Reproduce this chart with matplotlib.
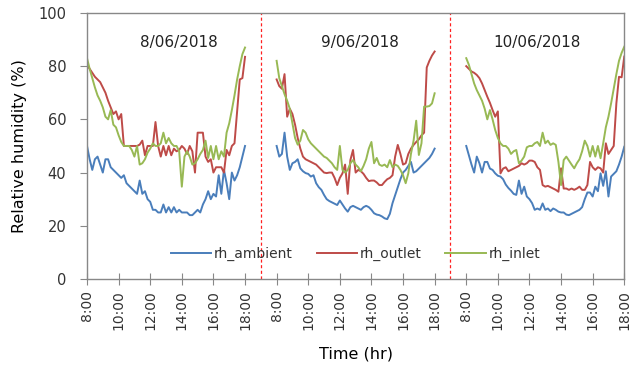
import numpy as np
import matplotlib
matplotlib.use("Agg")
import matplotlib.pyplot as plt

plt.rcParams['font.family'] = ['DejaVu Sans']

days = ["8/06/2018", "9/06/2018", "10/06/2018"]
tick_labels = ["8:00", "10:00", "12:00", "14:00", "16:00", "18:00"] * 3
# samples every 10 minutes from 8:00 to 18:00 (61 per day)
minutes_step = 10

amb_d1 = [50, 45, 41, 45, 46, 43, 40, 45, 45, 42, 41, 40, 39, 38, 39, 36, 35, 34, 33, 32,
          37, 32, 33, 30, 29, 26, 26, 25, 25, 28, 25, 27, 25, 27, 25, 26, 25, 25, 25, 24,
          24, 25, 26, 25, 28, 30, 33, 30, 32, 31, 39, 32, 41, 36, 30, 40, 37, 39, 42, 46, 50]
out_d1 = [80.5, 79, 77.5, 76, 75, 74, 72, 70, 67, 64.5, 62, 63, 60, 62, 50, 50, 50, 50, 50, 50,
          50.5, 52, 46.5, 50, 50, 50, 59, 50, 46, 50, 46.5, 50, 46.5, 49, 48, 48.5, 50, 49, 47, 50,
          48, 40, 55, 55, 55, 46, 44, 45, 40, 42, 42, 42, 40, 48.5, 46.5, 50, 51, 63, 75, 75.5, 83.5]
in_d1 = [83, 79, 75.5, 72, 69, 67, 64.5, 61, 60, 63.5, 58, 57, 54, 51.5, 50, 50, 50, 48.5, 46, 50,
         43, 43.5, 45, 47.5, 49, 51, 50, 50, 51, 55, 51, 53, 51, 50, 50, 48, 34.7, 46, 48, 46,
         43, 43.5, 45, 47, 48.5, 52, 45.5, 50, 45, 50, 45, 48, 46, 55, 58.5, 63.5, 69, 75, 80, 84.5, 87]

amb_d2 = [50, 46, 47, 55, 46, 41, 43.5, 44, 45, 41.6, 40.5, 39.8, 39.5, 38.5, 39, 36, 34.5, 33.5, 31.6, 30,
          29.3, 28.8, 28.3, 27.8, 29.5, 28, 26.5, 25.3, 27, 27.5, 27, 26.5, 26, 27, 27.5, 27, 26, 24.7, 24.2, 24,
          23.5, 22.8, 22.5, 24.5, 28.5, 31.5, 34.5, 37.5, 40, 41, 42.5, 44, 40, 40.5, 41.5, 42.5, 43.5, 44.5, 45.5, 47, 49]
out_d2 = [75, 72.5, 71.5, 77, 61, 64, 62, 58, 53, 49, 46, 45, 44.5, 44, 43.5, 43, 42, 41, 40, 39.8,
          40, 40, 38, 35.3, 38, 39.7, 43, 32, 44.7, 48.5, 40, 41, 40.5, 39.5, 38, 36.8, 37, 37, 36.3, 35.3,
          35.3, 36.5, 37.5, 38, 39, 46, 50.4, 47, 43, 43.5, 47, 49, 50.4, 51.5, 52.5, 54, 55, 79.5, 82, 84, 85.5]
in_d2 = [82, 75.5, 72.5, 69.5, 67, 64, 58.5, 53, 50.5, 52, 56, 55, 52.5, 51, 50, 49, 48, 47, 46, 45.5,
         44.5, 43.5, 42, 41, 50, 41, 40, 41, 43.5, 44.7, 43, 42, 40.5, 42.5, 45, 49, 51.5, 43.5, 45.5, 43,
         42.5, 43, 42, 44.7, 42, 43, 42.5, 41, 39, 36, 39.7, 47, 52, 59.5, 46.6, 51, 64.8, 64.8, 65, 66, 69.8]

amb_d3 = [50, 46.5, 43, 40, 46, 43.5, 40, 44, 44, 41.5, 41, 39.7, 38.8, 38.5, 37.5, 35.5, 34.2, 33.2, 32, 31.6,
          37, 32, 34.7, 31, 30, 28.5, 26, 26.5, 26, 28.4, 26, 26.5, 25.5, 26.5, 26, 25.3, 25, 25, 24.2, 24,
          24.5, 25, 25.5, 26, 27, 30, 32.5, 32.5, 31, 34.7, 33, 39.7, 35, 40.5, 31, 38.5, 39.5, 40.5, 43, 46, 49.7]
out_d3 = [80, 79, 78, 77.5, 76.7, 75.5, 73.5, 71, 68.5, 66.2, 63.5, 61, 63, 39.7, 41.5, 42, 40.5, 41, 41.5, 42,
          42.5, 43.5, 43, 43.5, 44.5, 44.5, 44, 42, 41, 35.3, 34.7, 35, 34.5, 34, 33.5, 32.8, 41.6, 34, 34, 33.5,
          34, 33.5, 34, 34.7, 33.5, 33.5, 35.3, 44, 42, 41, 42, 41.6, 40, 51, 47, 48.5, 50, 66, 76, 75.8, 83.6]
in_d3 = [83, 80.5, 77, 73.5, 71, 69, 67, 64, 60, 63.5, 60, 56, 53, 51, 50, 50, 49, 47, 48, 48.5,
         43.5, 44.5, 46, 49.5, 50, 50, 51, 51.5, 50, 55, 51, 52, 50.4, 51, 50.4, 44, 35.3, 44.7, 46, 44.5,
         43, 41.6, 43.5, 45, 48, 52, 50, 46, 50, 46, 50, 45.4, 51, 57, 61, 66, 71.5, 77, 82, 85, 87.3]

series = {
    "rh_ambient": [amb_d1, amb_d2, amb_d3],
    "rh_outlet": [out_d1, out_d2, out_d3],
    "rh_inlet": [in_d1, in_d2, in_d3],
}
colors = {"rh_ambient": "#4a7ebb", "rh_outlet": "#be4b48", "rh_inlet": "#98b954"}

fig = plt.figure(figsize=(6.37, 3.70), dpi=100)
ax = fig.add_axes([0.1366, 0.246, 0.8434, 0.719])

day_span = 12  # hours per day slot on the category axis (10 h of data + 2 h gap)
for name, day_vals in series.items():
    first = True
    for d, vals in enumerate(day_vals):
        t = np.arange(len(vals)) * minutes_step / 60.0
        x = d * day_span + t
        ax.plot(x, vals, color=colors[name], lw=1.4,
                label=name if first else None, solid_joinstyle='round')
        first = False

# separators between days
for d in range(1, len(days)):
    ax.axvline(d * day_span - 1, color='#ff2020', lw=0.9, ls=(0, (2.5, 2)))

# day titles
title_offsets = [5.8, 5.3, 4.5]
for d, lab in enumerate(days):
    ax.text(d * day_span + title_offsets[d], 89, lab, ha='center', va='center',
            fontsize=11, color='#222222')

ax.set_xlim(0, 34)
ax.set_ylim(0, 100)
xt = np.arange(len(tick_labels)) * 2
ax.set_xticks(xt)
ax.set_xticklabels(tick_labels, rotation=90, fontsize=10, color='#333333')
ax.set_yticks(np.arange(0, 101, 20))
ax.tick_params(axis='y', labelsize=10.5, colors='#333333', direction='out', length=5,
               pad=10, color='#888888')
ax.tick_params(axis='x', direction='inout', length=9, color='#888888')
for sp in ax.spines.values():
    sp.set_color('#888888')
    sp.set_linewidth(1.0)

ax.set_ylabel("Relative humidity (%)", fontsize=11.5, color='black', labelpad=8)
ax.set_xlabel("Time (hr)", fontsize=11.5, color='black', labelpad=12)

leg = ax.legend(loc='lower center', bbox_to_anchor=(0.5, 0.02), ncol=3, frameon=False,
                fontsize=10, handlelength=2.9, columnspacing=1.7, handletextpad=0.2)
for t in leg.get_texts():
    t.set_color('#333333')

fig.savefig("out.png", dpi=100)
